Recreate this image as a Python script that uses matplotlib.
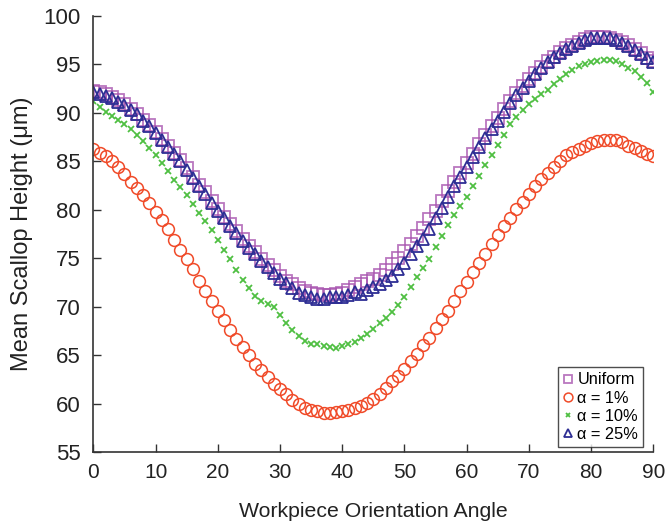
import numpy as np
import matplotlib
matplotlib.use("Agg")
import matplotlib.pyplot as plt

plt.rcParams['font.family'] = ['Liberation Sans', 'DejaVu Sans']

angle = np.arange(0, 91)

uniform = [92.3, 92.1, 91.9, 91.6, 91.3, 90.9, 90.4, 89.9, 89.3, 88.7,
           88.0, 87.3, 86.6, 85.9, 85.1, 84.3, 83.4, 82.6, 81.8, 80.9,
           80.1, 79.3, 78.5, 77.8, 77.0, 76.3, 75.6, 74.9, 74.3, 73.8,
           73.2, 72.7, 72.3, 71.9, 71.6, 71.4, 71.3, 71.2, 71.2, 71.3,
           71.4, 71.7, 72.0, 72.3, 72.6, 72.9, 73.3, 73.8, 74.4, 75.0,
           75.7, 76.5, 77.3, 78.1, 79.0, 79.9, 80.9, 81.9, 82.9, 83.8,
           84.8, 85.8, 86.8, 87.7, 88.6, 89.5, 90.4, 91.2, 92.0, 92.8,
           93.5, 94.1, 94.7, 95.3, 95.8, 96.3, 96.7, 97.0, 97.3, 97.6,
           97.8, 97.8, 97.8, 97.7, 97.5, 97.3, 97.0, 96.6, 96.2, 95.7,
           95.3]

alpha1 = [86.3, 85.9, 85.5, 85.0, 84.4, 83.7, 82.9, 82.2, 81.5, 80.7,
          79.8, 78.9, 78.0, 76.9, 75.9, 74.9, 73.9, 72.7, 71.6, 70.6,
          69.6, 68.6, 67.6, 66.7, 65.8, 65.0, 64.1, 63.5, 62.7, 62.0,
          61.5, 61.0, 60.4, 60.0, 59.6, 59.3, 59.2, 59.0, 59.0, 59.1,
          59.2, 59.3, 59.5, 59.8, 60.1, 60.5, 61.0, 61.6, 62.3, 62.9,
          63.6, 64.4, 65.1, 66.0, 66.8, 67.8, 68.7, 69.6, 70.6, 71.6,
          72.5, 73.6, 74.5, 75.4, 76.5, 77.4, 78.3, 79.1, 80.1, 80.8,
          81.6, 82.4, 83.2, 83.8, 84.4, 85.0, 85.6, 86.0, 86.3, 86.6,
          86.9, 87.1, 87.2, 87.2, 87.2, 87.0, 86.6, 86.4, 86.1, 85.8,
          85.5]

alpha10 = [91.2, 90.6, 90.1, 89.7, 89.3, 88.8, 88.3, 87.7, 87.1, 86.4,
           85.6, 84.8, 84.0, 83.1, 82.3, 81.5, 80.6, 79.7, 78.8, 77.9,
           76.9, 75.9, 74.9, 73.8, 72.8, 71.9, 71.1, 70.6, 70.3, 70.0,
           69.1, 68.3, 67.6, 67.0, 66.5, 66.2, 66.1, 65.9, 65.8, 65.7,
           65.9, 66.1, 66.4, 66.8, 67.2, 67.7, 68.3, 68.8, 69.5, 70.2,
           71.0, 72.0, 73.1, 74.0, 74.9, 76.2, 77.3, 78.4, 79.5, 80.4,
           81.3, 82.4, 83.5, 84.6, 85.7, 86.7, 87.7, 88.8, 89.6, 90.3,
           90.9, 91.4, 91.9, 92.4, 93.0, 93.5, 94.0, 94.4, 94.8, 95.0,
           95.2, 95.3, 95.4, 95.4, 95.3, 95.0, 94.6, 94.3, 93.7, 93.1,
           92.2]

alpha25 = [92.2, 91.9, 91.7, 91.5, 91.1, 90.8, 90.3, 89.9, 89.2, 88.6,
           87.9, 87.2, 86.5, 85.8, 85.0, 84.1, 83.3, 82.4, 81.6, 80.7,
           79.9, 79.1, 78.3, 77.6, 76.8, 76.1, 75.4, 74.7, 74.1, 73.5,
           72.9, 72.4, 71.9, 71.4, 71.2, 71.0, 70.8, 70.8, 71.0, 71.0,
           71.0, 71.2, 71.5, 71.3, 71.7, 72.0, 72.3, 72.8, 73.2, 73.9,
           74.5, 75.4, 76.3, 77.0, 78.0, 79.1, 80.2, 81.3, 82.4, 83.4,
           84.4, 85.4, 86.5, 87.4, 88.3, 89.2, 90.1, 91.0, 91.8, 92.6,
           93.3, 94.0, 94.6, 95.2, 95.8, 96.2, 96.6, 96.9, 97.2, 97.5,
           97.7, 97.7, 97.7, 97.7, 97.5, 97.2, 96.9, 96.5, 96.1, 95.7,
           95.2]

fig = plt.figure(figsize=(6.65, 5.3), dpi=100)
ax = fig.add_axes([0.1404, 0.147, 0.842, 0.823])

ax.plot(angle, uniform, linestyle='None', marker='s', markersize=8.5,
        markerfacecolor='none', markeredgecolor='#a855b0', markeredgewidth=1.3,
        alpha=0.8, label='Uniform')
ax.plot(angle, alpha1, linestyle='None', marker='o', markersize=8.5,
        markerfacecolor='none', markeredgecolor='#f04a28', markeredgewidth=1.1,
        label='α = 1%')
ax.plot(angle, alpha10, linestyle='None', marker='x', markersize=4.5,
        color='#4fbf42', markeredgewidth=1.3, label='α = 10%')
ax.plot(angle, alpha25, linestyle='None', marker='^', markersize=8,
        markerfacecolor='none', markeredgecolor='#2e2e94', markeredgewidth=1.3,
        label='α = 25%')

ax.set_xlim(0, 90)
ax.set_ylim(55, 100)
ax.set_xticks(np.arange(0, 91, 10))
ax.set_yticks(np.arange(55, 101, 5))
ax.spines['top'].set_visible(False)
ax.spines['right'].set_visible(False)
for s in ['left', 'bottom']:
    ax.spines[s].set_color('#333333')
    ax.spines[s].set_linewidth(1.2)
ax.tick_params(direction='in', length=6, width=1, colors='#333333',
               labelcolor='#222222')
ax.tick_params(axis='y', labelsize=16, pad=9)
ax.tick_params(axis='x', labelsize=15, pad=8)
for lbl in ax.get_xticklabels() + ax.get_yticklabels():
    lbl.set_clip_on(False)

ax.set_xlabel('Workpiece Orientation Angle', fontsize=15.3, color='#222222', labelpad=14)
ax.set_ylabel('Mean Scallop Height (μm)', fontsize=17, color='#222222', labelpad=8)

leg = ax.legend(loc='lower right', bbox_to_anchor=(0.982, 0.0115), fontsize=11.8,
                handlelength=0.6, handletextpad=0.3, borderpad=0.3,
                labelspacing=0.2, borderaxespad=0, fancybox=False,
                markerscale=0.75, frameon=True)
leg.get_frame().set_edgecolor('#222222')
leg.get_frame().set_linewidth(1.0)

fig.savefig('out.png', dpi=100)
